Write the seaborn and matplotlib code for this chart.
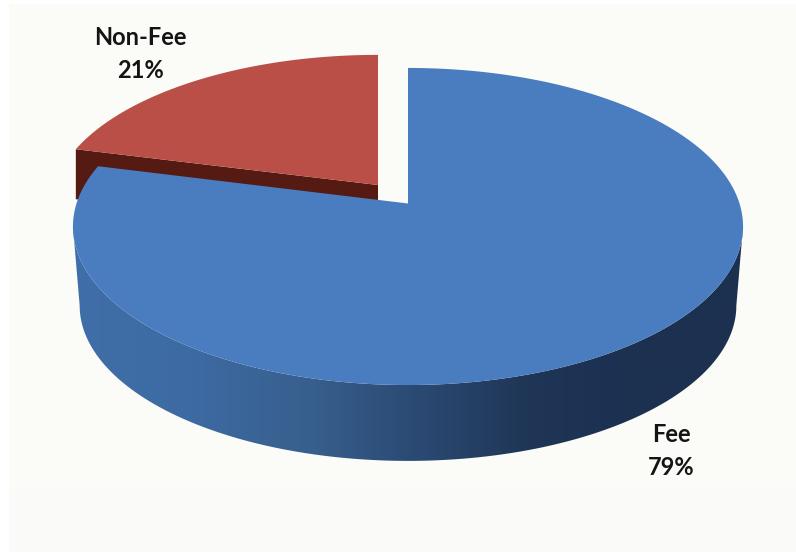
import numpy as np
import matplotlib
matplotlib.use("Agg")
import matplotlib.pyplot as plt
from matplotlib.colors import LinearSegmentedColormap
from matplotlib.patches import Polygon, Rectangle
import seaborn as sns

# Revenue split shown by the pie
categories = ["Fee", "Non-Fee"]
shares = [79, 21]
top_colors = ["#4a7cc0", "#b94f47"]
side_stops = ["#3f6ea8", "#3d6aa2", "#38608f", "#2b4a73", "#1f3656", "#1c3050"]
cut_color = "#551a12"
paper = "#fbfbf7"
paper_low = "#fafaf8"

sns.set_theme(style="white")
plt.rcParams["font.family"] = ["Lato", "DejaVu Sans"]

W, H = 796, 552
fig = plt.figure(figsize=(W / 100, H / 100), dpi=100, facecolor="white")
ax = fig.add_axes([0, 0, 1, 1])
ax.set_xlim(0, W)
ax.set_ylim(H, 0)
ax.axis("off")
ax.add_patch(Rectangle((9, 4), W - 9, H - 4, fc=paper, ec="none", zorder=0))
ax.add_patch(Rectangle((9, 490), W - 9, H - 490, fc=paper_low, ec="none", zorder=0))

# Perspective projection of the tilted disc
TILT = 0.145
RX, RY = 331.5, 155.2


def project(theta, cx, cy, sx=1.0, sy=1.0):
    u, v = np.sin(theta), np.cos(theta)
    d = 1 + TILT * v
    return cx + sx * RX * u / d, cy - sy * RY * v / d


def arc(start, stop, n=240):
    return np.linspace(start, stop, n)


fractions = np.cumsum([0] + shares) / sum(shares) * 2 * np.pi
fee_start, fee_end = fractions[0], fractions[1]
other_start, other_end = fractions[1], fractions[2]

FEE_CENTER = (408, 203.5)
OTHER_CENTER = (378, 185)
OTHER_SX, OTHER_SY = 0.975, 0.96
CUT_DEPTH = 50
BASE_CENTER = (408, 283)
BASE_SCALE = 0.98

# Non-Fee slice: cut face first, then its top, both partly hidden by the Fee slice
tx, ty = project(other_start, *OTHER_CENTER, OTHER_SX, OTHER_SY)
ax.fill(
    [OTHER_CENTER[0], tx, tx, OTHER_CENTER[0]],
    [OTHER_CENTER[1], ty, ty + CUT_DEPTH, OTHER_CENTER[1] + CUT_DEPTH],
    color=cut_color, lw=0, zorder=1,
)
t = arc(other_start, other_end)
x, y = project(t, *OTHER_CENTER, OTHER_SX, OTHER_SY)
ax.fill(np.r_[OTHER_CENTER[0], x], np.r_[OTHER_CENTER[1], y],
        color=top_colors[1], lw=0, zorder=2)

# Fee slice: outer wall runs between the disc's two horizontal extremes,
# filled with a horizontal gradient clipped to its outline
edge_angle = np.arccos(-TILT)
t = arc(edge_angle, 2 * np.pi - edge_angle, 500)
side_cmap = LinearSegmentedColormap.from_list("side", sns.blend_palette(side_stops, 64))
xt, yt = project(t, *FEE_CENTER)
xb, yb = project(t, *BASE_CENTER, BASE_SCALE, BASE_SCALE)
wall = Polygon(np.c_[np.r_[xt, xb[::-1]], np.r_[yt, yb[::-1]]],
               closed=True, fc="none", ec="none", transform=ax.transData)
ax.add_patch(wall)
ramp = np.clip((np.arange(W) - 80) / 560, 0, 1)[None, :]
image = ax.imshow(ramp, cmap=side_cmap, extent=(0, W, H, 0), aspect="auto",
                  vmin=0, vmax=1, zorder=3, interpolation="bilinear")
image.set_clip_path(wall)

t = arc(fee_start, fee_end, 600)
x, y = project(t, *FEE_CENTER)
ax.fill(np.r_[FEE_CENTER[0], x], np.r_[FEE_CENTER[1], y],
        color=top_colors[0], lw=0, zorder=4)

# Category labels
label_style = dict(ha="center", va="center", fontsize=17, fontweight="bold",
                   color="#141414", linespacing=1.48, zorder=5)
ax.text(140, 54, f"{categories[1]}\n{shares[1]}%", **label_style)
ax.text(671, 451, f"{categories[0]}\n{shares[0]}%", **label_style)

fig.savefig("out.png", dpi=100, facecolor="white")
